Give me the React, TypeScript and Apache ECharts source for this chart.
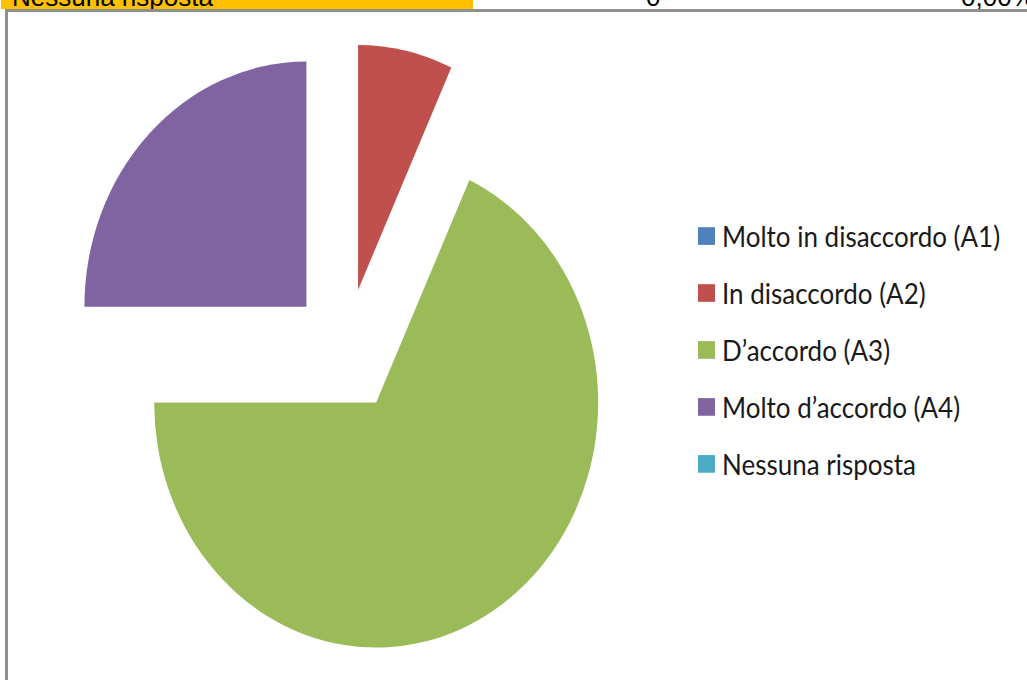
import React, { useEffect, useRef } from "react";
import * as echarts from "echarts";

// ---- data ----
const categories = [
  "Molto in disaccordo (A1)",
  "In disaccordo (A2)",
  "D’accordo (A3)",
  "Molto d’accordo (A4)",
  "Nessuna risposta",
];
const percentages = [0, 6.9, 68.1, 25.0, 0];
const colors = ["#4F81BD", "#C0504D", "#9BBB59", "#8064A2", "#4BACC6"];
const headerRow = ["Nessuna risposta", "0", "0,00%"];

const SCALE_Y = 1.104;

export default function App() {
  const ref = useRef<HTMLDivElement>(null);

  useEffect(() => {
    if (!ref.current) return;
    const chart = echarts.init(ref.current, undefined, { renderer: "svg" });
    chart.setOption({
      animation: false,
      backgroundColor: "transparent",
      legend: {
        orient: "vertical",
        left: 693,
        top: 195.8,
        itemWidth: 17,
        itemHeight: 16,
        itemGap: 25.6,
        icon: "rect",
        selectedMode: false,
        data: categories,
        textStyle: {
          fontFamily: "Lato",
          fontSize: 26,
          lineHeight: 26,
          color: "#1a1a1a",
          padding: [0, 0, 0, 2],
        },
      },
      series: [
        {
          type: "pie",
          center: [346, 317.4],
          radius: 222,
          startAngle: 90,
          clockwise: true,
          selectedMode: "multiple",
          selectedOffset: 56,
          avoidLabelOverlap: false,
          label: { show: false },
          labelLine: { show: false },
          emphasis: { disabled: true },
          itemStyle: { borderWidth: 0 },
          data: categories.map((name, i) => ({
            name,
            value: percentages[i],
            selected: true,
            itemStyle: { color: colors[i] },
          })),
        },
      ],
    });
    return () => chart.dispose();
  }, []);

  const cellText: React.CSSProperties = {
    position: "absolute",
    top: -18,
    fontSize: 26,
    lineHeight: "30px",
    color: "#000",
    whiteSpace: "nowrap",
  };

  return (
    <div
      style={{
        position: "fixed",
        left: 0,
        top: 0,
        width: 1027,
        height: 680,
        background: "#ffffff",
        overflow: "hidden",
        fontFamily: "'Liberation Sans', Arial, sans-serif",
      }}
    >
      {/* top table row, cut off as in the reference */}
      <div
        style={{
          position: "absolute",
          left: 1,
          top: 0,
          width: 472,
          height: 9,
          background: "#FFC000",
        }}
      />
      <div
        style={{
          position: "absolute",
          left: 0,
          top: 0,
          width: 1027,
          height: 9,
          overflow: "hidden",
        }}
      >
        <div style={{ ...cellText, left: 12 }}>{headerRow[0]}</div>
        <div style={{ ...cellText, left: 646 }}>{headerRow[1]}</div>
        <div style={{ ...cellText, left: 961 }}>{headerRow[2]}</div>
      </div>
      {/* chart frame */}
      <div
        style={{
          position: "absolute",
          left: 5,
          top: 9,
          width: 1100,
          height: 800,
          border: "3px solid #8f8f8f",
          boxSizing: "border-box",
        }}
      />
      <div
        ref={ref}
        style={{
          position: "absolute",
          left: 0,
          top: 0,
          width: 1027,
          height: 616,
          transform: `scaleY(${SCALE_Y})`,
          transformOrigin: "0 0",
        }}
      />
    </div>
  );
}
